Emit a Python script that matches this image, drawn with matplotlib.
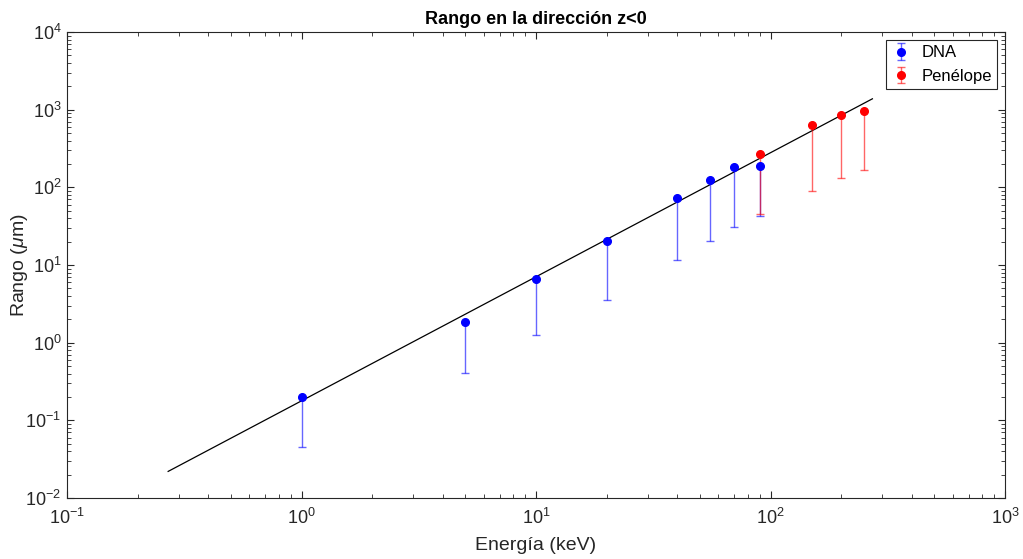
import matplotlib
matplotlib.use("Agg")
import matplotlib.pyplot as plt
import numpy as np

plt.rcParams['font.family'] = ['Liberation Sans', 'DejaVu Sans']
plt.rcParams['mathtext.fontset'] = 'custom'
plt.rcParams['mathtext.rm'] = 'Liberation Sans'
plt.rcParams['mathtext.it'] = 'Liberation Sans:italic'
plt.rcParams['mathtext.bf'] = 'Liberation Sans:bold'

# DNA data
dna_E = [1, 5, 10, 20, 40, 55, 70, 90]
dna_R = [0.20, 1.86, 6.6, 20.5, 73, 125, 182, 188]
dna_low = [0.046, 0.41, 1.27, 3.55, 11.7, 20.3, 30.5, 42.5]

# Penelope data
pen_E = [90, 150, 200, 250]
pen_R = [268, 640, 860, 950]
pen_low = [45, 90, 132, 167]

# Fit line endpoints
fit_E = [0.27, 272]
fit_R = [0.022, 1380]

fig = plt.figure(figsize=(10.23, 5.59), dpi=100)
ax = fig.add_axes([67/1023, 1-498/559, (1005-67)/1023, (498-32)/559])

ax.plot(fit_E, fit_R, color='black', lw=0.9)

def eb(E, R, low, color, label):
    R = np.array(R); low = np.array(low)
    yerr = [R - low, np.zeros_like(R)]
    c = ax.errorbar(E, R, yerr=yerr, fmt='o', color=color, ms=5.5,
                    ecolor=color, elinewidth=1.0, capsize=3, capthick=1.0,
                    label=label)
    for l in c[1]:
        l.set_alpha(0.6)
    for l in c[2]:
        l.set_alpha(0.6)
    return c

eb(dna_E, dna_R, dna_low, (0, 0, 1), 'DNA')
eb(pen_E, pen_R, pen_low, (1, 0, 0), 'Penélope')

ax.set_xscale('log')
ax.set_yscale('log')
ax.set_xlim(0.1, 1000)
ax.set_ylim(0.01, 10000)
ax.tick_params(which='both', direction='in', top=True, right=True, labelsize=13,
               color='#262626', labelcolor='#262626')
ax.tick_params(which='major', length=5)
ax.tick_params(axis='x', which='major', pad=7)
ax.tick_params(axis='y', which='major', pad=4)
ax.tick_params(which='minor', length=3)
for s in ax.spines.values():
    s.set_color('#262626')
    s.set_linewidth(0.8)

ax.set_title('Rango en la dirección z<0', fontsize=13, fontweight='bold', pad=6)
ax.set_xlabel('Energía (keV)', fontsize=14, color='#262626')
ax.set_ylabel('Rango ($\\mu$m)', fontsize=14, color='#262626')
ax.xaxis.set_label_coords(0.5, (498 - 545) / 466, transform=ax.transAxes)
ax.yaxis.set_label_coords((20 - 67) / 938, 0.5, transform=ax.transAxes)
ax.xaxis.label.set_va('center')
ax.yaxis.label.set_va('center')

leg = ax.legend(loc='upper right', fontsize=12, fancybox=False, framealpha=1,
                edgecolor='#262626', handletextpad=0.6, borderpad=0.3,
                handlelength=1.2, borderaxespad=0.5)
leg.get_frame().set_linewidth(0.8)

fig.savefig('out.png', dpi=100)
